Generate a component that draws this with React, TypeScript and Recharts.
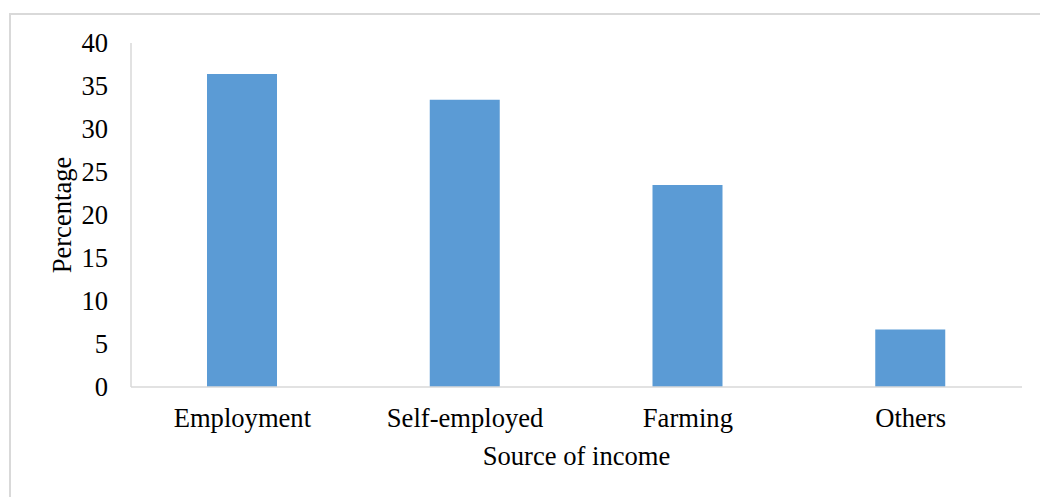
import { BarChart, Bar, XAxis, YAxis } from 'recharts';

// Source of income shares (%)
const SOURCES = ['Employment', 'Self-employed', 'Farming', 'Others'];
const PERCENTAGES = [36.4, 33.4, 23.5, 6.7];
const Y_TICKS = [0, 5, 10, 15, 20, 25, 30, 35, 40];

const FONT = '"Liberation Serif", "Times New Roman", serif';
const FONT_SIZE = 26.6;
const AXIS_GRAY = '#d9d9d9';

const data = SOURCES.map((source, i) => ({ source, value: PERCENTAGES[i] }));

export default function App() {
    return (
        <div style={{ position: 'absolute', left: 0, top: 0, width: 1040, height: 497, background: '#fff', fontFamily: FONT }}>
            {/* outer chart frame, only top and left edges are visible */}
            <div
                style={{
                    position: 'absolute',
                    left: 9,
                    top: 13,
                    width: 1100,
                    height: 600,
                    borderTop: `2px solid ${AXIS_GRAY}`,
                    borderLeft: `2px solid ${AXIS_GRAY}`,
                }}
            />
            <div style={{ position: 'absolute', left: 0, top: 0 }}>
                <BarChart
                    width={1040}
                    height={497}
                    data={data}
                    margin={{ top: 43, right: 18, left: 0, bottom: 0 }}
                    barSize={70}
                >
                    <XAxis
                        dataKey="source"
                        height={110}
                        tickLine={false}
                        axisLine={{ stroke: AXIS_GRAY, strokeWidth: 1.5 }}
                        tickMargin={15}
                        tick={{ fill: '#000', fontSize: FONT_SIZE, fontFamily: FONT }}
                        label={{
                            value: 'Source of income',
                            position: 'insideBottom',
                            offset: 32,
                            fill: '#000',
                            fontSize: FONT_SIZE,
                            fontFamily: FONT,
                        }}
                    />
                    <YAxis
                        width={131}
                        domain={[0, 40]}
                        ticks={Y_TICKS}
                        interval={0}
                        tickLine={false}
                        axisLine={{ stroke: AXIS_GRAY, strokeWidth: 1.5 }}
                        tickMargin={17}
                        tick={{ fill: '#000', fontSize: FONT_SIZE, fontFamily: FONT }}
                        label={{
                            value: 'Percentage',
                            angle: -90,
                            position: 'center',
                            dx: -4,
                            fill: '#000',
                            fontSize: FONT_SIZE,
                            fontFamily: FONT,
                        }}
                    />
                    <Bar dataKey="value" fill="#5b9bd5" isAnimationActive={false} />
                </BarChart>
            </div>
        </div>
    );
}
